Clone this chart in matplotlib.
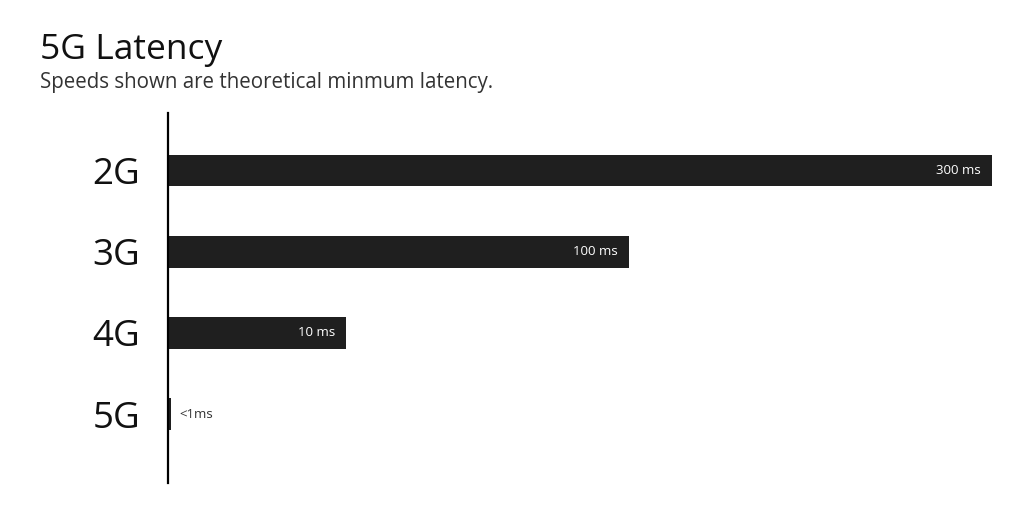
import matplotlib
matplotlib.use("Agg")
import matplotlib.pyplot as plt

# Data
categories = ["2G", "3G", "4G", "5G"]
latency_labels = ["300 ms", "100 ms", "10 ms", "<1ms"]
# bar lengths as drawn in the infographic (not to linear scale of latency)
bar_lengths = [300, 167.8, 64.8, 1.1]

plt.rcParams['font.family'] = ['Open Sans', 'DejaVu Sans']

fig = plt.figure(figsize=(10.24, 5.12), dpi=100)
ax = fig.add_axes([168/1024, 1-483/512, 824/1024, 370/512])

ypos = list(range(len(categories)))
ax.barh(ypos, bar_lengths, height=0.39, color="#1f1f1f", align="center")
ax.set_xlim(0, 300)
ax.set_ylim(3.845, -0.706)

for i, (v, lab) in enumerate(zip(bar_lengths, latency_labels)):
    if v > 20:
        ax.annotate(lab, xy=(v, i), xytext=(-11, 0), textcoords="offset pixels",
                    ha="right", va="center", color="white", fontsize=9.5)
    else:
        ax.annotate(lab, xy=(v, i), xytext=(8, 0), textcoords="offset pixels",
                    ha="left", va="center", color="#333333", fontsize=9.5)

ax.set_yticks(ypos)
ax.set_yticklabels(categories, fontsize=26.5, color="#111111")
ax.tick_params(axis="y", length=0, pad=20)
ax.set_xticks([])
for s in ["top", "right", "bottom"]:
    ax.spines[s].set_visible(False)
ax.spines["left"].set_linewidth(1.6)
ax.spines["left"].set_color("black")

fig.text(40/1024, 1-59/512, "5G Latency", fontsize=25.5, color="#111111", ha="left", va="baseline")
fig.text(40/1024, 1-88/512, "Speeds shown are theoretical minmum latency.", fontsize=14.8,
         color="#333333", ha="left", va="baseline")

fig.savefig("out.png", dpi=100, facecolor="white")
